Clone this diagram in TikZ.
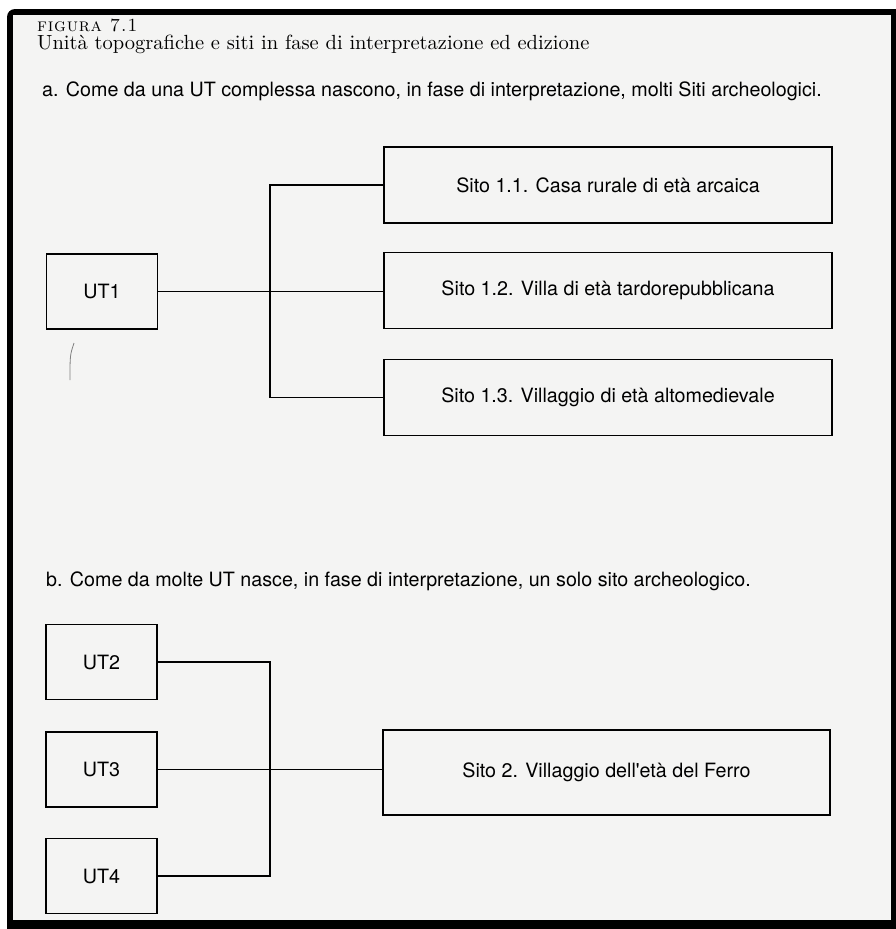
\documentclass[tikz,border=0pt]{standalone}
\usepackage{fontspec}
\newfontfamily\heros{TeX Gyre Heros}
\newfontfamily\capfont{lmroman10-regular.otf}
\newfontfamily\figfont{lmromancaps10-regular.otf}[LetterSpace=4]
\usepackage{tikz}
\definecolor{paper}{RGB}{244,244,243}
\tikzset{
    utbox/.style={draw, line width=1.6, minimum width=111, minimum height=75,
        font=\heros\fontsize{19.7}{23}\selectfont},
    sitobox/.style={draw, line width=1.6, minimum width=448, minimum height=76,
        font=\heros\fontsize{19.7}{23}\selectfont},
    link/.style={line width=1.6}
}

\begin{document}
\begin{tikzpicture}[x=1pt, y=-1pt]
    \useasboundingbox (0,0) rectangle (896,929);

    % Frame of the page
    \fill (896,929) -- (7,929) [rounded corners=8] -- (7,9) [sharp corners] -- (896,9) -- cycle;
    \fill[paper] (13,15) rectangle (891,920);

    % Caption
    \node[anchor=base west, inner sep=0, font=\figfont\fontsize{18.5}{20}\selectfont] (figno)
        at (37,31) {figura 7.1};
    \node[anchor=base west, inner sep=0, font=\capfont\fontsize{20.5}{22}\selectfont] (caption)
        at (37,49.5) {Unità topografiche e siti in fase di interpretazione ed edizione};

    % Part a: one UT, many sites
    \node[anchor=base west, inner sep=0, font=\heros\fontsize{19.7}{23}\selectfont] (heada)
        at (42,96) {a. Come da una UT complessa nascono, in fase di interpretazione, molti Siti archeologici.};
    \node[utbox] (ut1) at (102,291.5) {UT1};
    \foreach \n/\y/\txt in {11/185/{Sito 1.1. Casa rurale di età arcaica},
                            12/290.5/{Sito 1.2. Villa di età tardorepubblicana},
                            13/397.5/{Sito 1.3. Villaggio di età altomedievale}} {
        \node[sitobox] (sito\n) at (608,\y) {\txt};
    }
    \coordinate (ja) at (270,291.5);
    \draw[link] (ut1.east) -- (ut1.east -| sito12.west);
    \draw[link] (sito11.west) -- (sito11.west -| ja) -- (sito13.west -| ja) -- (sito13.west);

    % pencil mark
    \draw[gray, line width=0.8] (74,343) .. controls (70,355) .. (70,380);

    % Part b: many UT, one site
    \node[anchor=base west, inner sep=0, font=\heros\fontsize{19.7}{23}\selectfont] (headb)
        at (46,586) {b. Come da molte UT nasce, in fase di interpretazione, un solo sito archeologico.};
    \foreach \n/\y in {2/662, 3/769.5, 4/876} {
        \node[utbox] (ut\n) at (101.5,\y) {UT\n};
    }
    \node[sitobox, minimum width=447, minimum height=85] (sito2) at (606.5,772.5)
        {Sito 2. Villaggio dell'età del Ferro};
    \coordinate (jb) at (270,769.5);
    \draw[link] (ut2.east) -- (ut2.east -| jb) -- (ut4.east -| jb) -- (ut4.east);
    \draw[link] (ut3.east) -- (ut3.east -| sito2.west);
\end{tikzpicture}
\end{document}
